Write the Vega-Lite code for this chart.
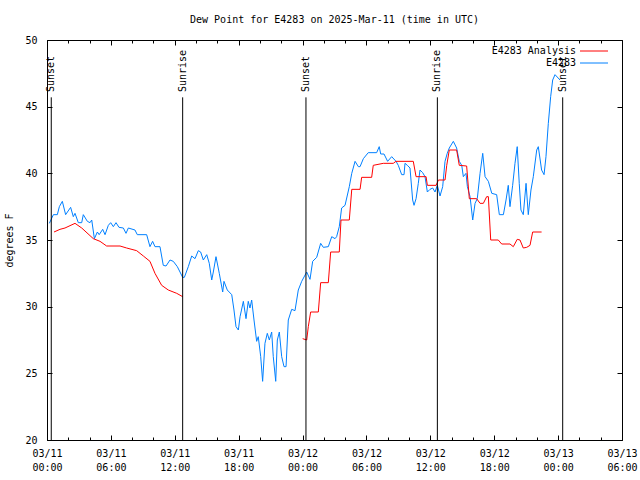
{
"$schema": "https://vega.github.io/schema/vega-lite/v6.json",
"width": 575, "height": 400,
"autosize": "none",
"padding": {"left": 47, "top": 40, "right": 18, "bottom": 40},
"background": "white",
"title": {"text": "Dew Point for E4283 on 2025-Mar-11 (time in UTC)", "font": "DejaVu Sans Mono", "fontSize": 10, "fontWeight": "normal", "color": "black", "anchor": "middle", "offset": 10},
"config": {
  "view": {"stroke": "black", "strokeWidth": 1},
  "axis": {"labelFont": "DejaVu Sans Mono", "labelFontSize": 10, "labelColor": "black", "titleFont": "DejaVu Sans Mono", "titleFontSize": 10, "titleFontWeight": "normal", "titleColor": "black", "tickColor": "black", "domain": false, "grid": false, "labelFlush": false, "labelOverlap": false, "labelBound": false}
},
"datasets": {
"obs": [
{"h":0.22,"dew":36.25,"series":"E4283"},{"h":0.6,"dew":36.9,"series":"E4283"},{"h":0.97,"dew":36.9,"series":"E4283"},{"h":1.16,"dew":37.5,"series":"E4283"},{"h":1.44,"dew":37.9,"series":"E4283"},{"h":1.75,"dew":36.9,"series":"E4283"},{"h":2.22,"dew":37.45,"series":"E4283"},{"h":2.47,"dew":36.75,"series":"E4283"},{"h":2.63,"dew":37.0,"series":"E4283"},{"h":2.94,"dew":36.3,"series":"E4283"},{"h":3.26,"dew":36.3,"series":"E4283"},{"h":3.41,"dew":36.9,"series":"E4283"},{"h":3.79,"dew":36.4,"series":"E4283"},{"h":4.04,"dew":36.3,"series":"E4283"},{"h":4.2,"dew":36.5,"series":"E4283"},{"h":4.45,"dew":35.1,"series":"E4283"},{"h":4.73,"dew":35.6,"series":"E4283"},{"h":4.9,"dew":35.4,"series":"E4283"},{"h":5.23,"dew":35.8,"series":"E4283"},{"h":5.45,"dew":35.4,"series":"E4283"},{"h":5.76,"dew":36.1,"series":"E4283"},{"h":5.98,"dew":36.3,"series":"E4283"},{"h":6.23,"dew":36.0,"series":"E4283"},{"h":6.48,"dew":36.3,"series":"E4283"},{"h":6.76,"dew":35.95,"series":"E4283"},{"h":7.17,"dew":35.9,"series":"E4283"},{"h":7.42,"dew":35.5,"series":"E4283"},{"h":7.64,"dew":35.9,"series":"E4283"},{"h":8.26,"dew":35.75,"series":"E4283"},{"h":8.48,"dew":35.4,"series":"E4283"},{"h":9.36,"dew":35.4,"series":"E4283"},{"h":9.67,"dew":34.5,"series":"E4283"},{"h":9.92,"dew":34.9,"series":"E4283"},{"h":10.14,"dew":34.5,"series":"E4283"},{"h":10.61,"dew":34.5,"series":"E4283"},{"h":10.92,"dew":33.1,"series":"E4283"},{"h":11.18,"dew":33.05,"series":"E4283"},{"h":11.55,"dew":33.5,"series":"E4283"},{"h":11.86,"dew":33.4,"series":"E4283"},{"h":12.24,"dew":33.0,"series":"E4283"},{"h":12.74,"dew":32.2,"series":"E4283"},{"h":12.9,"dew":32.2,"series":"E4283"},{"h":13.27,"dew":33.0,"series":"E4283"},{"h":13.59,"dew":33.8,"series":"E4283"},{"h":13.9,"dew":33.6,"series":"E4283"},{"h":14.21,"dew":34.2,"series":"E4283"},{"h":14.43,"dew":34.1,"series":"E4283"},{"h":14.68,"dew":33.5,"series":"E4283"},{"h":15.0,"dew":33.9,"series":"E4283"},{"h":15.24,"dew":33.25,"series":"E4283"},{"h":15.47,"dew":32.0,"series":"E4283"},{"h":15.62,"dew":32.6,"series":"E4283"},{"h":15.87,"dew":33.75,"series":"E4283"},{"h":16.18,"dew":32.5,"series":"E4283"},{"h":16.5,"dew":31.1,"series":"E4283"},{"h":16.62,"dew":31.9,"series":"E4283"},{"h":16.93,"dew":31.25,"series":"E4283"},{"h":17.35,"dew":30.9,"series":"E4283"},{"h":17.56,"dew":29.75,"series":"E4283"},{"h":17.75,"dew":28.5,"series":"E4283"},{"h":17.97,"dew":28.25,"series":"E4283"},{"h":18.13,"dew":29.25,"series":"E4283"},{"h":18.44,"dew":30.4,"series":"E4283"},{"h":18.69,"dew":29.1,"series":"E4283"},{"h":18.9,"dew":30.4,"series":"E4283"},{"h":19.06,"dew":29.9,"series":"E4283"},{"h":19.22,"dew":30.5,"series":"E4283"},{"h":19.44,"dew":29.0,"series":"E4283"},{"h":19.69,"dew":27.4,"series":"E4283"},{"h":19.84,"dew":27.75,"series":"E4283"},{"h":20.07,"dew":26.25,"series":"E4283"},{"h":20.25,"dew":24.4,"series":"E4283"},{"h":20.47,"dew":27.25,"series":"E4283"},{"h":20.69,"dew":28.0,"series":"E4283"},{"h":20.88,"dew":27.5,"series":"E4283"},{"h":21.1,"dew":28.1,"series":"E4283"},{"h":21.25,"dew":26.25,"series":"E4283"},{"h":21.48,"dew":24.4,"series":"E4283"},{"h":21.63,"dew":27.5,"series":"E4283"},{"h":21.82,"dew":28.1,"series":"E4283"},{"h":22.04,"dew":26.25,"series":"E4283"},{"h":22.26,"dew":25.5,"series":"E4283"},{"h":22.45,"dew":25.5,"series":"E4283"},{"h":22.66,"dew":29.0,"series":"E4283"},{"h":22.98,"dew":29.8,"series":"E4283"},{"h":23.29,"dew":29.7,"series":"E4283"},{"h":23.6,"dew":31.25,"series":"E4283"},{"h":23.92,"dew":31.9,"series":"E4283"},{"h":24.39,"dew":32.6,"series":"E4283"},{"h":24.7,"dew":32.05,"series":"E4283"},{"h":24.95,"dew":33.4,"series":"E4283"},{"h":25.33,"dew":33.7,"series":"E4283"},{"h":25.7,"dew":34.75,"series":"E4283"},{"h":25.95,"dew":34.45,"series":"E4283"},{"h":26.42,"dew":34.5,"series":"E4283"},{"h":26.74,"dew":35.25,"series":"E4283"},{"h":27.05,"dew":35.1,"series":"E4283"},{"h":27.2,"dew":35.25,"series":"E4283"},{"h":27.45,"dew":36.0,"series":"E4283"},{"h":27.67,"dew":37.4,"series":"E4283"},{"h":27.99,"dew":37.6,"series":"E4283"},{"h":28.39,"dew":39.0,"series":"E4283"},{"h":28.62,"dew":40.0,"series":"E4283"},{"h":28.93,"dew":40.9,"series":"E4283"},{"h":29.24,"dew":40.5,"series":"E4283"},{"h":29.4,"dew":40.5,"series":"E4283"},{"h":29.71,"dew":41.1,"series":"E4283"},{"h":30.17,"dew":41.55,"series":"E4283"},{"h":30.96,"dew":41.55,"series":"E4283"},{"h":31.2,"dew":42.0,"series":"E4283"},{"h":31.34,"dew":41.45,"series":"E4283"},{"h":31.65,"dew":41.45,"series":"E4283"},{"h":31.99,"dew":40.9,"series":"E4283"},{"h":32.37,"dew":41.25,"series":"E4283"},{"h":32.78,"dew":40.9,"series":"E4283"},{"h":32.99,"dew":40.6,"series":"E4283"},{"h":33.31,"dew":39.9,"series":"E4283"},{"h":33.53,"dew":39.9,"series":"E4283"},{"h":33.62,"dew":40.75,"series":"E4283"},{"h":33.84,"dew":40.6,"series":"E4283"},{"h":34.09,"dew":40.4,"series":"E4283"},{"h":34.34,"dew":38.0,"series":"E4283"},{"h":34.47,"dew":37.6,"series":"E4283"},{"h":34.66,"dew":38.1,"series":"E4283"},{"h":34.87,"dew":39.25,"series":"E4283"},{"h":35.03,"dew":40.25,"series":"E4283"},{"h":35.28,"dew":40.05,"series":"E4283"},{"h":35.5,"dew":39.75,"series":"E4283"},{"h":35.72,"dew":38.6,"series":"E4283"},{"h":35.97,"dew":38.8,"series":"E4283"},{"h":36.22,"dew":38.9,"series":"E4283"},{"h":36.44,"dew":38.6,"series":"E4283"},{"h":36.66,"dew":39.1,"series":"E4283"},{"h":36.91,"dew":38.3,"series":"E4283"},{"h":37.16,"dew":39.0,"series":"E4283"},{"h":37.38,"dew":40.9,"series":"E4283"},{"h":37.59,"dew":41.5,"series":"E4283"},{"h":37.78,"dew":41.9,"series":"E4283"},{"h":38.16,"dew":42.4,"series":"E4283"},{"h":38.47,"dew":41.9,"series":"E4283"},{"h":38.72,"dew":40.9,"series":"E4283"},{"h":38.95,"dew":40.6,"series":"E4283"},{"h":39.1,"dew":39.75,"series":"E4283"},{"h":39.35,"dew":40.0,"series":"E4283"},{"h":39.48,"dew":39.0,"series":"E4283"},{"h":39.73,"dew":38.25,"series":"E4283"},{"h":39.98,"dew":36.5,"series":"E4283"},{"h":40.2,"dew":37.75,"series":"E4283"},{"h":40.41,"dew":38.1,"series":"E4283"},{"h":40.67,"dew":40.0,"series":"E4283"},{"h":40.92,"dew":41.5,"series":"E4283"},{"h":41.14,"dew":39.75,"series":"E4283"},{"h":41.45,"dew":39.4,"series":"E4283"},{"h":41.77,"dew":38.5,"series":"E4283"},{"h":42.23,"dew":38.4,"series":"E4283"},{"h":42.48,"dew":36.9,"series":"E4283"},{"h":42.86,"dew":36.9,"series":"E4283"},{"h":43.11,"dew":38.0,"series":"E4283"},{"h":43.32,"dew":39.1,"series":"E4283"},{"h":43.48,"dew":37.5,"series":"E4283"},{"h":43.73,"dew":39.1,"series":"E4283"},{"h":43.95,"dew":40.75,"series":"E4283"},{"h":44.16,"dew":42.0,"series":"E4283"},{"h":44.35,"dew":39.25,"series":"E4283"},{"h":44.51,"dew":37.25,"series":"E4283"},{"h":44.73,"dew":36.9,"series":"E4283"},{"h":44.99,"dew":39.25,"series":"E4283"},{"h":45.2,"dew":36.9,"series":"E4283"},{"h":45.45,"dew":38.75,"series":"E4283"},{"h":45.67,"dew":39.75,"series":"E4283"},{"h":45.99,"dew":41.75,"series":"E4283"},{"h":46.14,"dew":42.0,"series":"E4283"},{"h":46.45,"dew":40.25,"series":"E4283"},{"h":46.68,"dew":39.9,"series":"E4283"},{"h":46.86,"dew":41.25,"series":"E4283"},{"h":47.08,"dew":43.75,"series":"E4283"},{"h":47.3,"dew":45.75,"series":"E4283"},{"h":47.49,"dew":47.0,"series":"E4283"},{"h":47.71,"dew":47.4,"series":"E4283"},{"h":48.18,"dew":47.0,"series":"E4283"}
],
"analysis": [
{"h":0.66,"dew":35.6,"series":"E4283 Analysis","seg":1},{"h":1.22,"dew":35.8,"series":"E4283 Analysis","seg":1},{"h":1.69,"dew":35.9,"series":"E4283 Analysis","seg":1},{"h":2.63,"dew":36.25,"series":"E4283 Analysis","seg":1},{"h":3.26,"dew":35.9,"series":"E4283 Analysis","seg":1},{"h":4.35,"dew":35.1,"series":"E4283 Analysis","seg":1},{"h":4.98,"dew":34.9,"series":"E4283 Analysis","seg":1},{"h":5.6,"dew":34.55,"series":"E4283 Analysis","seg":1},{"h":6.86,"dew":34.55,"series":"E4283 Analysis","seg":1},{"h":7.48,"dew":34.4,"series":"E4283 Analysis","seg":1},{"h":8.42,"dew":34.2,"series":"E4283 Analysis","seg":1},{"h":9.05,"dew":33.8,"series":"E4283 Analysis","seg":1},{"h":9.67,"dew":33.4,"series":"E4283 Analysis","seg":1},{"h":10.14,"dew":32.5,"series":"E4283 Analysis","seg":1},{"h":10.77,"dew":31.6,"series":"E4283 Analysis","seg":1},{"h":11.39,"dew":31.25,"series":"E4283 Analysis","seg":1},{"h":12.18,"dew":31.0,"series":"E4283 Analysis","seg":1},{"h":12.74,"dew":30.75,"series":"E4283 Analysis","seg":1},
{"h":24.01,"dew":27.6,"series":"E4283 Analysis","seg":2},{"h":24.39,"dew":27.5,"series":"E4283 Analysis","seg":2},{"h":24.54,"dew":28.5,"series":"E4283 Analysis","seg":2},{"h":24.76,"dew":29.6,"series":"E4283 Analysis","seg":2},{"h":25.48,"dew":29.6,"series":"E4283 Analysis","seg":2},{"h":25.7,"dew":31.8,"series":"E4283 Analysis","seg":2},{"h":26.42,"dew":31.8,"series":"E4283 Analysis","seg":2},{"h":26.64,"dew":34.1,"series":"E4283 Analysis","seg":2},{"h":27.45,"dew":34.1,"series":"E4283 Analysis","seg":2},{"h":27.61,"dew":36.5,"series":"E4283 Analysis","seg":2},{"h":28.39,"dew":36.5,"series":"E4283 Analysis","seg":2},{"h":28.62,"dew":38.8,"series":"E4283 Analysis","seg":2},{"h":29.4,"dew":38.8,"series":"E4283 Analysis","seg":2},{"h":29.55,"dew":39.7,"series":"E4283 Analysis","seg":2},{"h":30.49,"dew":39.7,"series":"E4283 Analysis","seg":2},{"h":30.64,"dew":40.6,"series":"E4283 Analysis","seg":2},{"h":31.58,"dew":40.75,"series":"E4283 Analysis","seg":2},{"h":32.52,"dew":40.75,"series":"E4283 Analysis","seg":2},{"h":32.77,"dew":40.9,"series":"E4283 Analysis","seg":2},{"h":34.4,"dew":40.9,"series":"E4283 Analysis","seg":2},{"h":34.66,"dew":39.75,"series":"E4283 Analysis","seg":2},{"h":35.6,"dew":39.75,"series":"E4283 Analysis","seg":2},{"h":35.72,"dew":39.1,"series":"E4283 Analysis","seg":2},{"h":36.54,"dew":39.1,"series":"E4283 Analysis","seg":2},{"h":36.76,"dew":39.5,"series":"E4283 Analysis","seg":2},{"h":37.38,"dew":39.5,"series":"E4283 Analysis","seg":2},{"h":37.54,"dew":40.6,"series":"E4283 Analysis","seg":2},{"h":37.78,"dew":41.75,"series":"E4283 Analysis","seg":2},{"h":38.47,"dew":41.75,"series":"E4283 Analysis","seg":2},{"h":38.72,"dew":40.6,"series":"E4283 Analysis","seg":2},{"h":39.41,"dew":40.55,"series":"E4283 Analysis","seg":2},{"h":39.66,"dew":38.1,"series":"E4283 Analysis","seg":2},{"h":40.35,"dew":38.1,"series":"E4283 Analysis","seg":2},{"h":40.67,"dew":37.75,"series":"E4283 Analysis","seg":2},{"h":40.98,"dew":37.75,"series":"E4283 Analysis","seg":2},{"h":41.29,"dew":38.25,"series":"E4283 Analysis","seg":2},{"h":41.45,"dew":38.25,"series":"E4283 Analysis","seg":2},{"h":41.67,"dew":35.0,"series":"E4283 Analysis","seg":2},{"h":42.38,"dew":35.0,"series":"E4283 Analysis","seg":2},{"h":42.7,"dew":34.7,"series":"E4283 Analysis","seg":2},{"h":43.48,"dew":34.7,"series":"E4283 Analysis","seg":2},{"h":43.79,"dew":34.5,"series":"E4283 Analysis","seg":2},{"h":44.16,"dew":35.05,"series":"E4283 Analysis","seg":2},{"h":44.42,"dew":35.0,"series":"E4283 Analysis","seg":2},{"h":44.73,"dew":34.4,"series":"E4283 Analysis","seg":2},{"h":45.05,"dew":34.45,"series":"E4283 Analysis","seg":2},{"h":45.36,"dew":34.6,"series":"E4283 Analysis","seg":2},{"h":45.61,"dew":35.6,"series":"E4283 Analysis","seg":2},{"h":46.45,"dew":35.6,"series":"E4283 Analysis","seg":2}
],
"sun": [
{"h":0.4,"event":"Sunset"},{"h":12.74,"event":"Sunrise"},{"h":24.32,"event":"Sunset"},{"h":36.66,"event":"Sunrise"},{"h":48.43,"event":"Sunset"}
]
},
"layer": [
{
 "data": {"name": "obs"},
 "mark": {"type": "line", "strokeWidth": 1},
 "encoding": {
  "x": {"field": "h", "type": "quantitative", "scale": {"domain": [0, 54], "nice": false, "zero": false},
        "axis": {"orient": "bottom", "values": [0,6,12,18,24,30,36,42,48,54], "tickSize": -5, "labelPadding": 13, "labelLineHeight": 14, "title": null,
                 "labelExpr": "['03/' + (11 + floor(datum.value / 24)), (datum.value % 24 < 10 ? '0' : '') + (datum.value % 24) + ':00']"}},
  "y": {"field": "dew", "type": "quantitative", "scale": {"domain": [20, 50], "nice": false, "zero": false},
        "axis": {"orient": "left", "values": [20,25,30,35,40,45,50], "tickSize": -5, "labelPadding": 15, "title": "degrees F", "titlePadding": 10}},
  "color": {"field": "series", "type": "nominal",
            "scale": {"domain": ["E4283 Analysis", "E4283"], "range": ["#ff0000", "#0080ff"]},
            "legend": {"orient": "none", "legendX": 542, "legendY": 6, "title": null, "symbolType": "M-7,0H7", "symbolSize": 16, "symbolStrokeWidth": 1,
                       "labelAlign": "right", "labelOffset": -23, "labelFont": "DejaVu Sans Mono", "labelFontSize": 10, "labelColor": "black", "rowPadding": 2}}
 }
},
{
 "data": {"name": "analysis"},
 "mark": {"type": "line", "strokeWidth": 1},
 "encoding": {
  "x": {"field": "h", "type": "quantitative",
        "axis": {"orient": "bottom", "values": [0,2,4,6,8,10,12,14,16,18,20,22,24,26,28,30,32,34,36,38,40,42,44,46,48,50,52,54], "tickSize": -3, "labels": false, "title": null}},
  "y": {"field": "dew", "type": "quantitative",
        "axis": {"orient": "right", "values": [20,25,30,35,40,45,50], "tickSize": -5, "labels": false, "title": null}},
  "color": {"field": "series", "type": "nominal"},
  "detail": {"field": "seg", "type": "nominal"}
 }
},
{
 "data": {"name": "sun"},
 "mark": {"type": "rule", "color": "black", "strokeWidth": 1},
 "encoding": {
  "x": {"field": "h", "type": "quantitative",
        "axis": {"orient": "top", "values": [0,6,12,18,24,30,36,42,48,54], "tickSize": -5, "labels": false, "title": null}},
  "y": {"datum": 20, "type": "quantitative", "axis": null},
  "y2": {"datum": 45.7}
 }
},
{
 "data": {"name": "sun"},
 "mark": {"type": "text", "angle": 270, "align": "left", "baseline": "middle", "font": "DejaVu Sans Mono", "fontSize": 10, "color": "black"},
 "encoding": {
  "x": {"field": "h", "type": "quantitative",
        "axis": {"orient": "top", "values": [0,2,4,6,8,10,12,14,16,18,20,22,24,26,28,30,32,34,36,38,40,42,44,46,48,50,52,54], "tickSize": -3, "labels": false, "title": null}},
  "y": {"datum": 46.1, "type": "quantitative", "axis": null},
  "text": {"field": "event"}
 }
}
],
"resolve": {"axis": {"x": "independent", "y": "independent"}}
}
